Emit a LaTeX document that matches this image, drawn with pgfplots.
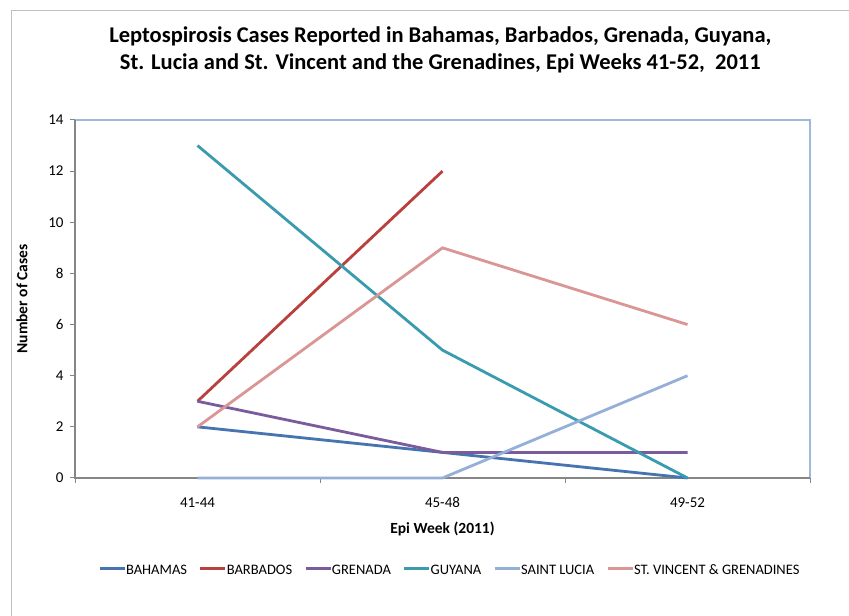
\documentclass[border=0pt]{standalone}
\usepackage{pgfplots}
\pgfplotsset{compat=1.18}
\usepackage{fontspec}
\setmainfont{Carlito}

\definecolor{cBahamas}{HTML}{4674B0}
\definecolor{cBarbados}{HTML}{B9403D}
\definecolor{cGrenada}{HTML}{7A5C9C}
\definecolor{cGuyana}{HTML}{3A9BB0}
\definecolor{cLucia}{HTML}{94B0D8}
\definecolor{cVincent}{HTML}{D99695}
\definecolor{axisgray}{HTML}{868686}
\definecolor{plotframe}{HTML}{9DB9DE}
\definecolor{outerframe}{HTML}{BFBFBF}

\begin{document}
\begin{tikzpicture}[x=1bp,y=1bp]
\useasboundingbox (0,0) rectangle (849,616);
\fill[white] (0,0) rectangle (849,616);
% chart area border (top and left edges)
\draw[outerframe, line width=1.2bp] (11.5,0) -- (11.5,605.5) -- (849,605.5);

\begin{axis}[
  at={(75bp,138bp)}, anchor=south west,
  scale only axis, width=735bp, height=358bp,
  xmin=0, xmax=3, ymin=0, ymax=14,
  axis line style={draw=none},
  xtick={0.5,1.5,2.5},
  xticklabels={41-44,45-48,49-52},
  minor xtick={0,1,2,3},
  major x tick style={draw=none},
  minor x tick style={axisgray, line width=1bp},
  minor tick length=5bp,
  ytick={0,2,...,14},
  y tick style={axisgray, line width=1bp},
  major tick length=5bp,
  tick align=outside,
  xtick pos=bottom, ytick pos=left,
  tick label style={font=\fontsize{15bp}{17bp}\selectfont},
  xticklabel style={yshift=-11bp},
  yticklabel style={xshift=-3bp},
  /pgf/number format/assume math mode=true,
  xlabel={Epi Week (2011)},
  ylabel={Number of Cases},
  xlabel style={font=\bfseries\fontsize{15.5bp}{17bp}\selectfont, at={(axis description cs:0.5,-0.143)}, anchor=center},
  ylabel style={font=\bfseries\fontsize{15.5bp}{17bp}\selectfont, at={(axis description cs:-0.072,0.5)}, anchor=center, rotate=0},
  title={Leptospirosis Cases Reported in Bahamas, Barbados, Grenada, Guyana,\\St. Lucia and St. Vincent and the Grenadines, Epi Weeks 41-52,\ \ 2011},
  title style={font=\bfseries\fontsize{22.5bp}{27bp}\selectfont, align=center, at={(axis description cs:0.497,1.18)}, anchor=center},
  legend columns=6,
  legend style={draw=none, fill=none, at={(axis description cs:0.51,-0.257)}, anchor=center,
    font=\fontsize{14.5bp}{16bp}\selectfont,
    nodes={text height=10bp, text depth=1bp, inner ysep=1bp},
    /tikz/every even column/.append style={column sep=10bp},
    /tikz/every odd column/.append style={column sep=-2bp}},
  legend image code/.code={\draw[#1, line width=2.8bp] (0bp,1.5bp) -- (25bp,1.5bp);},
  every axis plot/.append style={line width=2.8bp},
  clip=false,
]
% plot area frame: light blue at top and right, gray axis lines at left and bottom
\draw[plotframe, line width=1.3bp] (rel axis cs:0,1) -- (rel axis cs:1,1) -- (rel axis cs:1,0);
\draw[axisgray, line width=1.2bp] (rel axis cs:0,1) -- (rel axis cs:0,0) -- (rel axis cs:1,0);

\addplot[cBahamas] coordinates {(0.5,2) (1.5,1) (2.5,0)};
\addlegendentry{BAHAMAS}
\addplot[cBarbados] coordinates {(0.5,3) (1.5,12)};
\addlegendentry{BARBADOS}
\addplot[cGrenada] coordinates {(0.5,3) (1.5,1) (2.5,1)};
\addlegendentry{GRENADA}
\addplot[cGuyana] coordinates {(0.5,13) (1.5,5) (2.5,0)};
\addlegendentry{GUYANA}
\addplot[cLucia] coordinates {(0.5,0) (1.5,0) (2.5,4)};
\addlegendentry{SAINT LUCIA}
\addplot[cVincent] coordinates {(0.5,2) (1.5,9) (2.5,6)};
\addlegendentry{ST. VINCENT \& GRENADINES}
\end{axis}
\end{tikzpicture}
\end{document}
